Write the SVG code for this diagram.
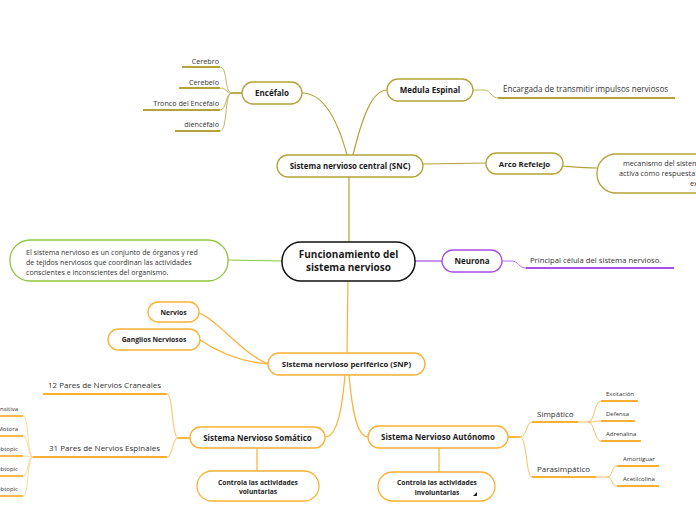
<svg xmlns="http://www.w3.org/2000/svg" width="696" height="520" viewBox="0 0 696 520">
<style>
text{font-family:"Open Sans","Noto Sans","DejaVu Sans",sans-serif;fill:#1a1a1a}
.b{font-weight:bold;text-anchor:middle}
.r{fill:#333}
.n{fill:#fff;stroke-width:1.3}
.ol{stroke:#b3a33a}
.or{stroke:#fbb034}
.pu{stroke:#a64ee6}
.gr{stroke:#8dc63f}
.c{fill:none;stroke-width:1.2}
.t{fill:none;stroke-width:0.8}
.u{fill:none;stroke-width:1.8}
</style>
<g id="connectors">
<path class="c ol" d="M349,177 L349,242"/>
<path class="c ol" d="M347,155 C337,118 322,93 302,93"/>
<path class="c ol" d="M353,155 C362,118 372,90 387,90"/>
<path class="c ol" d="M423,164 L486,163"/>
<path class="c ol" d="M563,166 C575,167 585,168 597,168"/>
<path class="u ol" d="M242,93 L232,93"/>
<path class="t ol" d="M232,93 C224,93 228,67 220,67 M232,93 C225,93 227,88 220,88 M232,93 C225,93 227,110 220,110 M232,93 C224,93 228,131 220,131"/>
<path class="t ol" d="M473,90 L484,90 C490,90 492,98 498,98"/>
<path class="c gr" d="M228,260 L282,261"/>
<path class="c pu" d="M415,261 L442,261"/>
<path class="t pu" d="M502,261 L512,261 C518,261 519,268 526,268"/>
<path class="c or" d="M348,280 L347,353"/>
<path class="c or" d="M199,313 C218,320 240,352 268,364"/>
<path class="c or" d="M200,340 C218,352 242,362 268,364"/>
<path class="c or" d="M345,375 C342,410 337,437 325,437"/>
<path class="c or" d="M349,375 C352,410 357,437 368,437"/>
<path class="c or" d="M257,448 L257,471"/>
<path class="c or" d="M439,448 L439,472"/>
<path class="u or" d="M190,438 L178,438"/>
<path class="t or" d="M178,438 C172,438 173,394 167,394 M178,438 C172,438 173,457 167,457"/>
<path class="t or" style="stroke:#fdd17e" d="M33,457 C27,457 29,416 23,416 M33,457 C27,457 29,436 23,436 M33,457 C27,457 29,456 23,456 M33,457 C27,457 29,476 23,476 M33,457 C27,457 29,496 23,496"/>
<path class="u or" d="M508,437 L520,437"/>
<path class="t or" d="M520,437 C527,437 526,422 532,422 M520,437 C527,437 526,477 532,477"/>
<path class="t or" d="M578,422 L588,422 C595,422 594,401 601,401 M588,422 C595,422 595,421 601,421 M588,422 C595,422 594,441 601,441"/>
<path class="t or" d="M596,477 L607,477 C613,477 611,466 617,466 M607,477 C613,477 611,486 617,486"/>
</g>
<g id="center">
<rect x="282" y="242" width="133" height="39" rx="19" fill="#fff" stroke="#111" stroke-width="1.5"/>
<text class="b" x="348.5" y="258" font-size="10">Funcionamiento del</text>
<text class="b" x="348.5" y="271" font-size="10">sistema nervioso</text>
</g>
<g id="descripcion">
<rect x="10" y="240" width="218" height="41" rx="20" class="n gr"/>
<text class="r" x="26" y="254.5" font-size="7.1">El sistema nervioso es un conjunto de órganos y red</text>
<text class="r" x="26" y="264.5" font-size="7.1">de tejidos nerviosos que coordinan las actividades</text>
<text class="r" x="26" y="274.5" font-size="7.1">conscientes e inconscientes del organismo.</text>
</g>
<g id="snc">
<rect x="277" y="155" width="146" height="22" rx="11" class="n ol"/>
<text class="b" x="350" y="169" font-size="7.9">Sistema nervioso central (SNC)</text>
</g>
<g id="encefalo">
<rect x="242" y="82" width="60" height="22" rx="11" class="n ol"/>
<text class="b" x="272" y="96" font-size="8">Encéfalo</text>
</g>
<g id="encefalo-hijos">
<text class="r" x="219" y="64" font-size="7.2" text-anchor="end">Cerebro</text>
<path class="u ol" d="M182,67 L220,67"/>
<text class="r" x="219" y="84.5" font-size="7.2" text-anchor="end">Cerebelo</text>
<path class="u ol" d="M179,88 L220,88"/>
<text class="r" x="219" y="105.5" font-size="7.2" text-anchor="end">Tronco del Encéfalo</text>
<path class="u ol" d="M143,110 L220,110"/>
<text class="r" x="219" y="126.5" font-size="7.2" text-anchor="end">diencéfalo</text>
<path class="u ol" d="M175,131 L220,131"/>
</g>
<g id="medula">
<rect x="387" y="79" width="86" height="22" rx="11" class="n ol"/>
<text class="b" x="430" y="93" font-size="8">Medula Espinal</text>
</g>
<g id="medula-hijo">
<text class="r" x="503" y="92" font-size="8.1">Encargada de transmitir impulsos nerviosos</text>
<path class="u ol" d="M498,98 L675,98"/>
</g>
<g id="arco">
<rect x="486" y="153" width="77" height="21" rx="10.5" class="n ol"/>
<text class="b" x="524.5" y="166.5" font-size="7.8">Arco Refelejo</text>
</g>
<g id="mecanismo">
<rect x="597" y="154" width="180" height="39" rx="19" class="n ol"/>
<text class="r" x="623" y="166" font-size="7.3">mecanismo del sistema</text>
<text class="r" x="619" y="176" font-size="7.3">activa como respuesta</text>
<text class="r" x="690" y="186" font-size="7.3">ex</text>
</g>
<g id="neurona">
<rect x="442" y="250" width="60" height="22" rx="11" class="n pu"/>
<text class="b" x="472" y="264" font-size="8">Neurona</text>
</g>
<g id="neurona-hijo">
<text class="r" x="530" y="263" font-size="7.7">Principal célula del sistema nervioso.</text>
<path class="u pu" d="M526,268 L674,268"/>
</g>
<g id="snp">
<rect x="268" y="353" width="157" height="22" rx="11" class="n or"/>
<text class="b" x="346.5" y="367" font-size="7.8">Sistema nervioso periférico (SNP)</text>
</g>
<g id="nervios">
<rect x="148" y="302" width="51" height="20" rx="10" class="n or"/>
<text class="b" x="173.5" y="314.5" font-size="6.8">Nervios</text>
</g>
<g id="ganglios">
<rect x="108" y="329" width="92" height="21" rx="10.5" class="n or"/>
<text class="b" x="154" y="342" font-size="6.8">Ganglios Nerviosos</text>
</g>
<g id="somatico">
<rect x="190" y="427" width="135" height="21" rx="10.5" class="n or"/>
<text class="b" x="257.5" y="440.5" font-size="8">Sistema Nervioso Somático</text>
</g>
<g id="somatico-hijos">
<text class="r" x="48" y="388" font-size="8">12 Pares de Nervios Craneales</text>
<path class="u or" d="M43,394 L167,394"/>
<text class="r" x="49" y="451" font-size="8">31 Pares de Nervios Espinales</text>
<path class="u or" d="M33,457 L167,457"/>
<text class="r" x="18" y="411" font-size="6" text-anchor="end">Sensitiva</text>
<path class="u or" d="M0,416 L23,416"/>
<text class="r" x="18" y="431" font-size="6" text-anchor="end">Motora</text>
<path class="u or" d="M0,436 L23,436"/>
<text class="r" x="18" y="451" font-size="6" text-anchor="end">Subtopic</text>
<path class="u or" d="M0,456 L23,456"/>
<text class="r" x="18" y="471" font-size="6" text-anchor="end">Subtopic</text>
<path class="u or" d="M0,476 L23,476"/>
<text class="r" x="18" y="491" font-size="6" text-anchor="end">Subtopic</text>
<path class="u or" d="M0,496 L23,496"/>
</g>
<g id="voluntarias">
<rect x="197" y="471" width="122" height="30" rx="15" class="n or"/>
<text class="b" x="258" y="484.5" font-size="6.7">Controla las actividades</text>
<text class="b" x="258" y="494" font-size="6.7">voluntarias</text>
</g>
<g id="autonomo">
<rect x="368" y="426" width="140" height="22" rx="11" class="n or"/>
<text class="b" x="438" y="440" font-size="8">Sistema Nervioso Autónomo</text>
</g>
<g id="involuntarias">
<rect x="378" y="472" width="117" height="29" rx="14.5" class="n or"/>
<text class="b" x="437" y="485" font-size="6.7">Controla las actividades</text>
<text class="b" x="437" y="494.5" font-size="6.7">involuntarias</text>
<path d="M473,496 L477,496 L477,492 Z" fill="#222"/>
</g>
<g id="autonomo-hijos">
<text class="r" x="537" y="417" font-size="8">Simpático</text>
<path class="u or" d="M532,422 L578,422"/>
<text class="r" x="537" y="472" font-size="8">Parasimpático</text>
<path class="u or" d="M532,477 L596,477"/>
<text class="r" x="606" y="396" font-size="6">Excitación</text>
<path class="u or" d="M601,401 L638,401"/>
<text class="r" x="606" y="416" font-size="6">Defensa</text>
<path class="u or" d="M601,421 L635,421"/>
<text class="r" x="606" y="436" font-size="6">Adrenalina</text>
<path class="u or" d="M601,441 L641,441"/>
<text class="r" x="623" y="461" font-size="6">Amortiguar</text>
<path class="u or" d="M617,466 L659,466"/>
<text class="r" x="623" y="481" font-size="6">Acetilcolina</text>
<path class="u or" d="M617,486 L659,486"/>
</g>
</svg>
